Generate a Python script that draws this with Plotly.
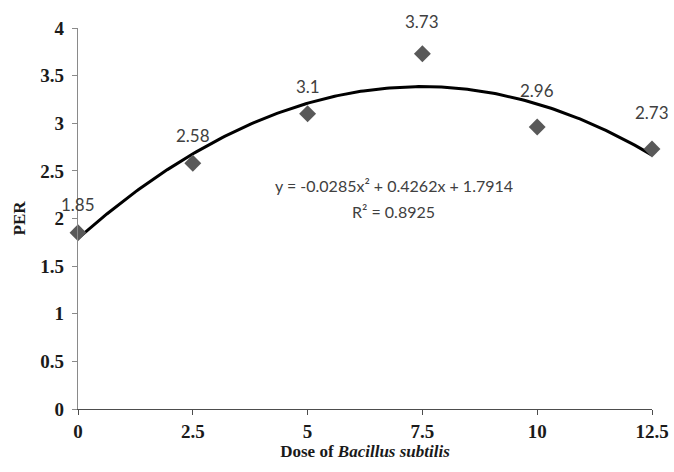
import numpy as np
import plotly.graph_objects as go

# Data
dose = [0, 2.5, 5, 7.5, 10, 12.5]
per = [1.85, 2.58, 3.1, 3.73, 2.96, 2.73]
per_labels = ["1.85", "2.58", "3.1", "3.73", "2.96", "2.73"]
trend_coefs = [-0.0285, 0.4262, 1.7914]  # quadratic trendline printed on chart
equation_line1 = "y = -0.0285x² + 0.4262x + 1.7914"
equation_line2 = "R² = 0.8925"
x_ticks = [0, 2.5, 5, 7.5, 10, 12.5]
y_ticks = [0, 0.5, 1, 1.5, 2, 2.5, 3, 3.5, 4]

# style: label vertical offsets (px)
label_yshift = [28, 28, 27, 32, 37, 36]

xs = np.linspace(min(dose), max(dose), 200)
ys = np.polyval(trend_coefs, xs)

fig = go.Figure()
fig.add_trace(go.Scatter(x=xs, y=ys, mode="lines",
                         line=dict(color="black", width=3),
                         hoverinfo="skip", cliponaxis=False))
fig.add_trace(go.Scatter(x=dose, y=per, mode="markers",
                         marker=dict(symbol="diamond", size=13, color="#595959"),
                         cliponaxis=False))

for xv, yv, t, sh in zip(dose, per, per_labels, label_yshift):
    fig.add_annotation(x=xv, y=yv, text=t, showarrow=False, yshift=sh,
                       font=dict(family="Lato", size=17, color="#404040"))

fig.add_annotation(x=6.88, y=2.35, xref="x", yref="y", text=equation_line1,
                   showarrow=False, font=dict(family="Lato", size=16, color="#404040"))
fig.add_annotation(x=6.88, y=2.07, xref="x", yref="y", text=equation_line2,
                   showarrow=False, font=dict(family="Lato", size=16, color="#404040"))

tick_font = dict(family="Liberation Serif", size=19, color="#1a1a1a")
fig.update_xaxes(range=[0, 12.5], tickvals=x_ticks,
                 ticktext=[f"<b>{v:g}</b>" for v in x_ticks],
                 showgrid=False, zeroline=False, showline=True, linecolor="#4d4d4d",
                 linewidth=1.3, ticks="outside", ticklen=5, tickcolor="#4d4d4d",
                 tickfont=tick_font, automargin=False,
                 title=dict(text="<b>Dose of <i>Bacillus subtilis</i></b>",
                            font=dict(family="Liberation Serif", size=17, color="#1a1a1a"),
                            standoff=4))
fig.update_yaxes(range=[0, 4], tickvals=y_ticks,
                 ticktext=[f"<b>{v:g}</b>" for v in y_ticks],
                 showgrid=False, zeroline=False, showline=True, linecolor="#8a8a8a",
                 linewidth=1.3, ticks="outside", ticklen=5, tickcolor="#8a8a8a",
                 tickfont=tick_font, automargin=False, ticklabelstandoff=4,
                 title=dict(text="<b>PER</b>",
                            font=dict(family="Liberation Serif", size=17, color="#1a1a1a"),
                            standoff=10))
fig.update_layout(width=674, height=472, plot_bgcolor="white", paper_bgcolor="white",
                  showlegend=False, margin=dict(l=78, r=22, t=28, b=63))

fig.write_html("out.html", config={"displayModeBar": False},
               post_script="document.body.style.margin='0';document.body.style.padding='0';")
